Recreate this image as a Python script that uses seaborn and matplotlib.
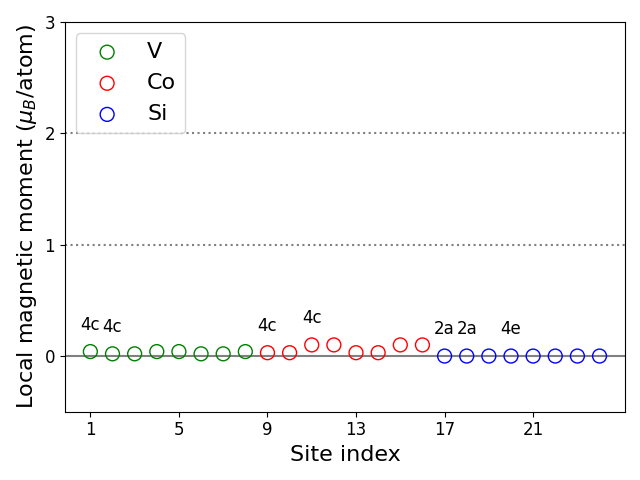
import numpy as np
import pandas as pd
import seaborn as sns
import matplotlib.pyplot as plt

# local moments per site
v_sites = [1, 2, 3, 4, 5, 6, 7, 8]
v_moments = [0.04, 0.02, 0.02, 0.04, 0.04, 0.02, 0.02, 0.04]
co_sites = [9, 10, 11, 12, 13, 14, 15, 16]
co_moments = [0.03, 0.03, 0.10, 0.10, 0.03, 0.03, 0.10, 0.10]
si_sites = [17, 18, 19, 20, 21, 22, 23, 24]
si_moments = [0.0, 0.0, 0.0, 0.0, 0.0, 0.0, 0.0, 0.0]

# wyckoff labels on some sites
label_sites = [1, 2, 9, 11, 17, 18, 20]
label_text = ['4c', '4c', '4c', '4c', '2a', '2a', '4e']

df = pd.concat([
    pd.DataFrame({'site': v_sites, 'moment': v_moments, 'element': 'V'}),
    pd.DataFrame({'site': co_sites, 'moment': co_moments, 'element': 'Co'}),
    pd.DataFrame({'site': si_sites, 'moment': si_moments, 'element': 'Si'}),
], ignore_index=True)

colors = {'V': 'green', 'Co': 'red', 'Si': 'blue'}

fig, ax = plt.subplots(figsize=(6.4, 4.8), dpi=100)

ax.axhline(0, color='gray', lw=1.5, zorder=1)
ax.axhline(1, color='gray', lw=1.5, ls=':', zorder=1)
ax.axhline(2, color='gray', lw=1.5, ls=':', zorder=1)

for el in ['V', 'Co', 'Si']:
    sub = df[df.element == el]
    sns.scatterplot(x='site', y='moment', data=sub, ax=ax, s=100, marker='o',
                    facecolors='none', edgecolor=colors[el], linewidth=1, label=el, zorder=3)

for s, t in zip(label_sites, label_text):
    y = df.loc[df.site == s, 'moment'].values[0]
    ax.text(s, y + 0.24, t, ha='center', va='center', fontsize=12)

ax.set_xlim(-0.15, 25.15)
ax.set_ylim(-0.5, 3)
ax.set_xticks([1, 5, 9, 13, 17, 21])
ax.set_yticks([0, 1, 2, 3])
ax.tick_params(labelsize=12)
ax.set_xlabel('Site index', fontsize=16)
ax.set_ylabel(r'Local magnetic moment ($\mu_B$/atom)', fontsize=16)
ax.legend(loc='upper left', fontsize=16)

plt.tight_layout()
plt.savefig('out.png')
